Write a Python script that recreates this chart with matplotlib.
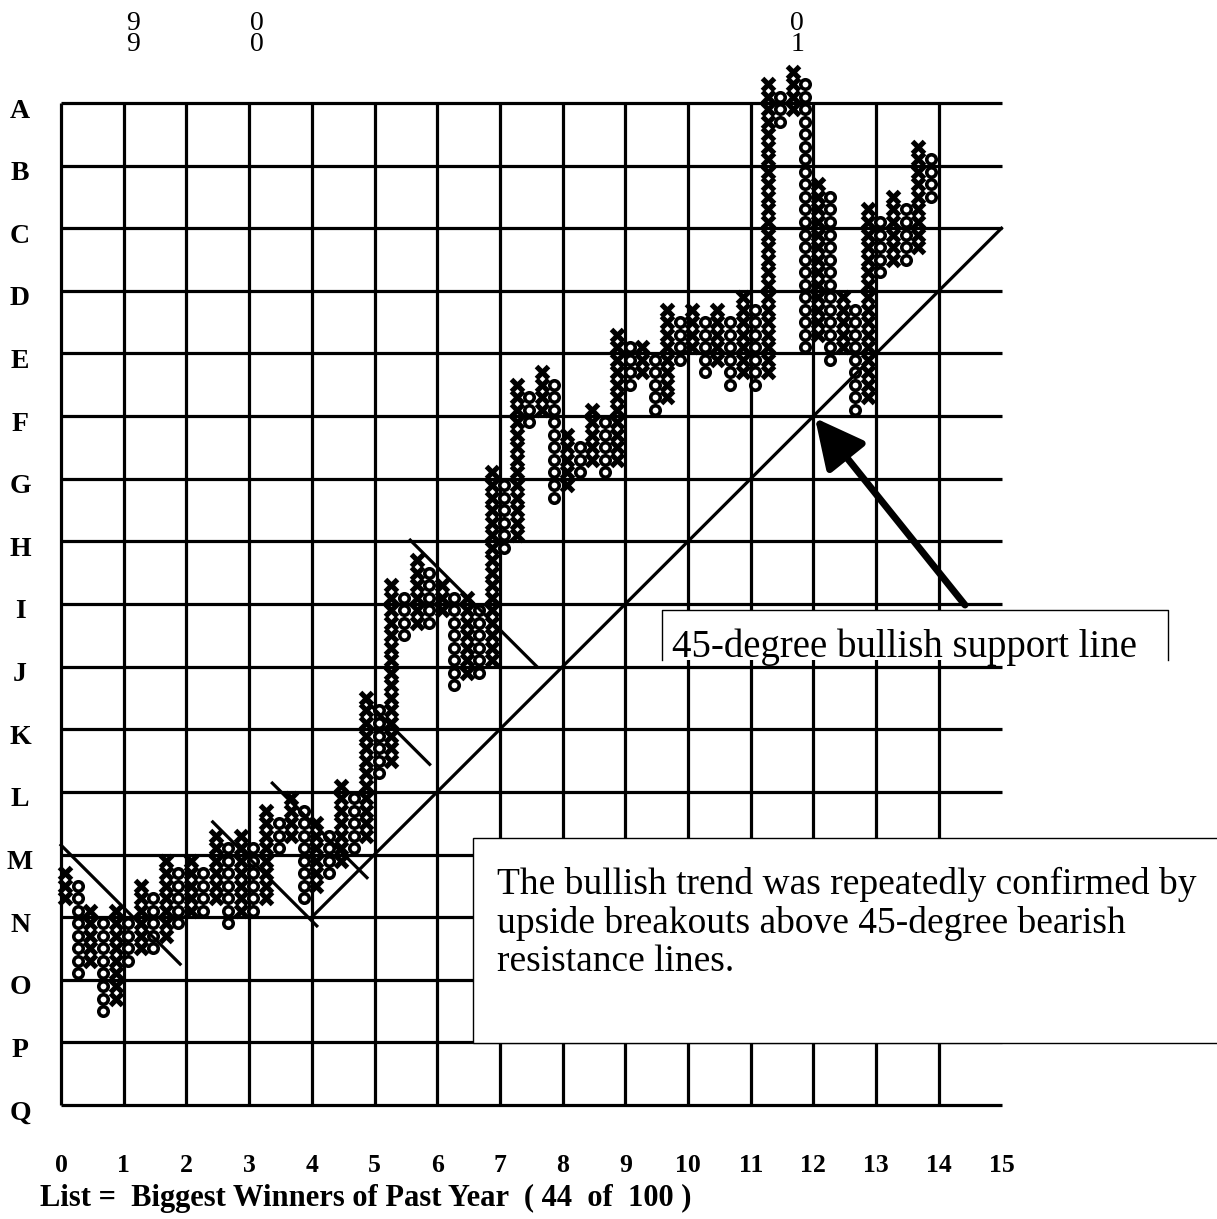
import matplotlib
matplotlib.use("Agg")
import matplotlib.pyplot as plt
from matplotlib.patches import Rectangle, FancyArrowPatch

# ---------------- data ----------------
row_labels = list("ABCDEFGHIJKLMNOPQ")          # top -> bottom
x_tick_labels = [str(i) for i in range(16)]
year_labels = ["9\n9", "0\n0", "0\n1"]
year_label_x = [1.15, 3.13, 11.74]

# point & figure columns (box index counted from the Q line, 5 boxes per row)
col_kind = ["X", "O"] * 35
col_low = [16, 10, 11, 7, 8, 11, 12, 12, 13, 14,
           15, 15, 16, 14, 15, 15, 16, 20, 21, 16,
           17, 18, 19, 20, 21, 26, 27, 37, 38, 38,
           39, 33, 34, 34, 35, 44, 45, 54, 55, 48,
           49, 50, 51, 50, 51, 57, 58, 55, 56, 59,
           60, 58, 59, 57, 58, 57, 58, 78, 79, 60,
           61, 59, 60, 55, 56, 66, 67, 67, 68, 72]
col_high = [18, 17, 15, 14, 15, 14, 17, 16, 19, 18,
            19, 18, 21, 20, 21, 20, 23, 22, 24, 23,
            22, 21, 25, 24, 32, 31, 41, 40, 43, 42,
            41, 40, 40, 39, 50, 49, 57, 56, 58, 57,
            53, 52, 55, 54, 61, 60, 60, 59, 63, 62,
            63, 62, 63, 62, 64, 63, 81, 80, 82, 81,
            73, 72, 64, 63, 71, 70, 72, 71, 76, 75]

# trend lines (grid units: x = column group, y = row from Q)
bull_line = [(4.0, 3.0), (15.0, 14.0)]
bear_lines = [
    [(0.0, 4.15), (1.9, 2.25)],
    [(2.42, 4.52), (4.08, 2.86)],
    [(3.37, 5.14), (4.88, 3.63)],
    [(4.85, 6.47), (5.88, 5.44)],
    [(5.57, 9.02), (7.59, 7.00)],
]

box_text1 = ("The bullish trend was repeatedly confirmed by\n"
             "upside breakouts above 45-degree bearish\n"
             "resistance lines.")
box_text2 = "45-degree bullish support line"
bottom_text = "List =  Biggest Winners of Past Year  ( 44  of  100 )"

# ---------------- figure ----------------
W, H = 1217, 1219
fig = plt.figure(figsize=(W / 100, H / 100), dpi=100)
ax = fig.add_axes([0, 0, 1, 1])

# pixel mapping: x px = 61 + 62.7*x ; y px = 1105 - 62.625*v
sx, ox = 62.7, 61.0
sy, oy = 62.625, 1105.0
ax.set_xlim(-ox / sx, (W - ox) / sx)
ax.set_ylim((oy - H) / sy, oy / sy)
ax.axis("off")

serif = ["Liberation Serif", "DejaVu Serif"]
grid_lw = 2.3

# grid
for i in range(15):
    ax.plot([i, i], [0, 16], color="black", lw=grid_lw, solid_capstyle="butt", zorder=1)
for r in range(17):
    ax.plot([0, 15], [r, r], color="black", lw=grid_lw, solid_capstyle="butt", zorder=1)

# P&F symbols
xs_x, ys_x, xs_o, ys_o = [], [], [], []
for i, (k, lo, hi) in enumerate(zip(col_kind, col_low, col_high)):
    cx = 0.07 + 0.2 * i
    for j in range(lo, hi + 1):
        cy = 0.1 + 0.2 * j
        if k == "X":
            xs_x.append(cx); ys_x.append(cy)
        else:
            xs_o.append(cx); ys_o.append(cy)
ax.plot(xs_o, ys_o, linestyle="none", marker="o", ms=6.8, mew=2.6,
        mfc="white", mec="black", zorder=3)
ax.plot(xs_x, ys_x, linestyle="none", marker="x", ms=8.6, mew=3.7,
        color="black", zorder=4)

# trend lines
ax.plot(*zip(*bull_line), color="black", lw=2.3, zorder=5)
for seg in bear_lines:
    ax.plot(*zip(*seg), color="black", lw=2.3, zorder=5)

# row labels
for r, lab in enumerate(row_labels):
    v = 16 - r
    ax.text((20 - ox) / sx, v - 8 / sy, lab, ha="center", va="center", fontsize=20,
            family=serif, fontweight="bold")

# bottom numbers
for i, lab in enumerate(x_tick_labels):
    ax.text(i, (oy - 1166) / sy, lab, ha="center", va="center", fontsize=18.5,
            family=serif, fontweight="bold")
ax.text((40 - ox) / sx, (oy - 1198) / sy, bottom_text, ha="left", va="center",
        fontsize=22, family=serif, fontweight="bold")

# year labels
for xl, lab in zip(year_label_x, year_labels):
    ax.text(xl, (oy - 34) / sy, lab, ha="center", va="center", fontsize=20,
            family=serif, linespacing=0.8)

# text box 1
x0, y0 = (473 - ox) / sx, (oy - 1043) / sy
x1, y1 = (1230 - ox) / sx, (oy - 838) / sy
ax.add_patch(Rectangle((x0, y0), x1 - x0, y1 - y0, facecolor="white",
                       edgecolor="black", lw=1.0, zorder=8))
ax.text((497 - ox) / sx, (oy - 867) / sy, box_text1, ha="left", va="top",
        fontsize=27, family=serif, linespacing=1.13, zorder=9)

# text box 2 (text clipped at bottom)
bx0, by0 = (662 - ox) / sx, (oy - 660) / sy
bx1, by1 = (1168 - ox) / sx, (oy - 610) / sy
ax.add_patch(Rectangle((bx0, by0), bx1 - bx0, by1 - by0, facecolor="white",
                       edgecolor="none", lw=0, zorder=8))
ax.plot([bx0, bx0, bx1, bx1], [by0, by1, by1, by0], color="black", lw=1.0, zorder=9)
clip = Rectangle((bx0, by0), bx1 - bx0, by1 - by0, transform=ax.transData,
                 facecolor="none", edgecolor="none")
t2 = ax.text((672 - ox) / sx, (oy - 657) / sy, box_text2, ha="left",
             va="baseline", fontsize=28, family=serif, zorder=9)
t2.set_clip_path(clip)

# arrow
tail = ((965 - ox) / sx, (oy - 605) / sy)
tip = ((815 - ox) / sx, (oy - 418) / sy)
ax.add_patch(FancyArrowPatch(tail, tip, arrowstyle="-|>,head_length=1.5,head_width=0.75",
                             mutation_scale=20, lw=5, color="black", zorder=10,
                             shrinkA=0, shrinkB=0))

fig.savefig("out.png", dpi=100)
